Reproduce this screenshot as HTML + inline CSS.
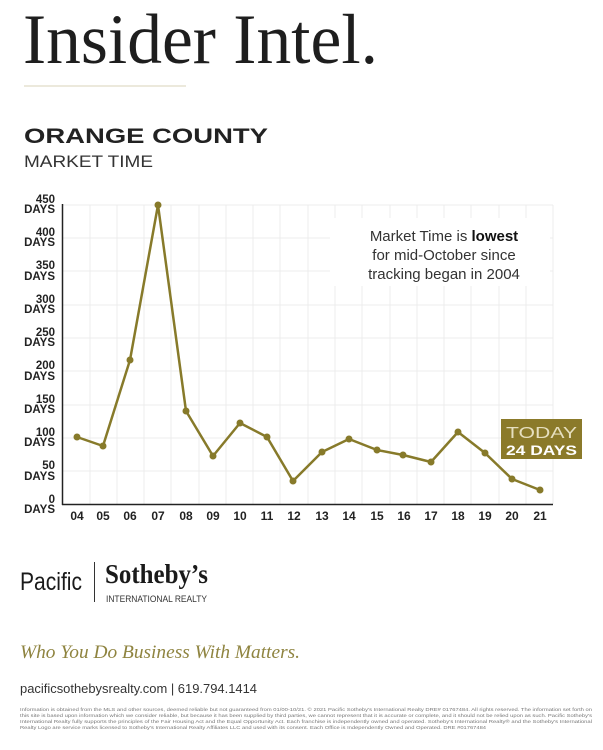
<!DOCTYPE html>
<html><head><meta charset="utf-8"><style>
html,body{margin:0;padding:0;background:#fff;}
svg{display:block;}
</style></head><body>
<svg width="603" height="750" xmlns="http://www.w3.org/2000/svg" font-family="Liberation Sans, sans-serif">
<rect width="603" height="750" fill="#fff"/>
<text x="23" y="63" font-family="Liberation Serif, serif" font-size="71" fill="#1e1e1e" textLength="355" lengthAdjust="spacingAndGlyphs">Insider Intel.</text>
<line x1="24" y1="86" x2="186" y2="86" stroke="#d8d3b8" stroke-width="1"/>
<text x="24" y="143" font-size="21" font-weight="bold" fill="#222" textLength="244" lengthAdjust="spacingAndGlyphs">ORANGE COUNTY</text>
<text x="24" y="167" font-size="17" fill="#333" textLength="129" lengthAdjust="spacingAndGlyphs">MARKET TIME</text>

<g stroke="#ececec" stroke-width="1">
<line x1="62" y1="205" x2="553" y2="205"/><line x1="62" y1="238" x2="553" y2="238"/><line x1="62" y1="271" x2="553" y2="271"/><line x1="62" y1="305" x2="553" y2="305"/><line x1="62" y1="338" x2="553" y2="338"/><line x1="62" y1="371" x2="553" y2="371"/><line x1="62" y1="405" x2="553" y2="405"/><line x1="62" y1="438" x2="553" y2="438"/><line x1="62" y1="471" x2="553" y2="471"/>
<line x1="90" y1="205" x2="90" y2="504"/><line x1="117" y1="205" x2="117" y2="504"/><line x1="144" y1="205" x2="144" y2="504"/><line x1="171" y1="205" x2="171" y2="504"/><line x1="199" y1="205" x2="199" y2="504"/><line x1="226" y1="205" x2="226" y2="504"/><line x1="253" y1="205" x2="253" y2="504"/><line x1="280" y1="205" x2="280" y2="504"/><line x1="308" y1="205" x2="308" y2="504"/><line x1="335" y1="205" x2="335" y2="504"/><line x1="362" y1="205" x2="362" y2="504"/><line x1="390" y1="205" x2="390" y2="504"/><line x1="417" y1="205" x2="417" y2="504"/><line x1="444" y1="205" x2="444" y2="504"/><line x1="471" y1="205" x2="471" y2="504"/><line x1="499" y1="205" x2="499" y2="504"/><line x1="526" y1="205" x2="526" y2="504"/><line x1="553" y1="205" x2="553" y2="504"/>
</g>
<rect x="330" y="218" width="220" height="68" fill="#fff"/>
<line x1="62.5" y1="204" x2="62.5" y2="505" stroke="#222" stroke-width="1.5"/>
<line x1="62" y1="504.5" x2="553" y2="504.5" stroke="#222" stroke-width="1.5"/>

<g font-size="11.5" font-weight="bold" fill="#222" text-anchor="end">
<text x="55" y="203">450</text><text x="55" y="213">DAYS</text>
<text x="55" y="236">400</text><text x="55" y="246">DAYS</text>
<text x="55" y="269">350</text><text x="55" y="280">DAYS</text>
<text x="55" y="303">300</text><text x="55" y="313">DAYS</text>
<text x="55" y="336">250</text><text x="55" y="346">DAYS</text>
<text x="55" y="369">200</text><text x="55" y="380">DAYS</text>
<text x="55" y="403">150</text><text x="55" y="413">DAYS</text>
<text x="55" y="436">100</text><text x="55" y="446">DAYS</text>
<text x="55" y="469">50</text><text x="55" y="480">DAYS</text>
<text x="55" y="503">0</text><text x="55" y="513">DAYS</text>
</g>
<g font-size="12" font-weight="bold" fill="#222" text-anchor="middle">
<text x="77" y="520">04</text><text x="103" y="520">05</text><text x="130" y="520">06</text><text x="158" y="520">07</text><text x="186" y="520">08</text><text x="213" y="520">09</text><text x="240" y="520">10</text><text x="267" y="520">11</text><text x="294" y="520">12</text><text x="322" y="520">13</text><text x="349" y="520">14</text><text x="377" y="520">15</text><text x="404" y="520">16</text><text x="431" y="520">17</text><text x="458" y="520">18</text><text x="485" y="520">19</text><text x="512" y="520">20</text><text x="540" y="520">21</text>
</g>

<polyline fill="none" stroke="#877a2a" stroke-width="2.5" stroke-linejoin="round" points="77,437 103,446 130,360 158,205 186,411 213,456 240,423 267,437 293,481 322,452 349,439 377,450 403,455 431,462 458,432 485,453 512,479 540,490"/>
<g fill="#877a2a">
<circle cx="77" cy="437" r="3.5"/><circle cx="103" cy="446" r="3.5"/><circle cx="130" cy="360" r="3.5"/><circle cx="158" cy="205" r="3.5"/><circle cx="186" cy="411" r="3.5"/><circle cx="213" cy="456" r="3.5"/><circle cx="240" cy="423" r="3.5"/><circle cx="267" cy="437" r="3.5"/><circle cx="293" cy="481" r="3.5"/><circle cx="322" cy="452" r="3.5"/><circle cx="349" cy="439" r="3.5"/><circle cx="377" cy="450" r="3.5"/><circle cx="403" cy="455" r="3.5"/><circle cx="431" cy="462" r="3.5"/><circle cx="458" cy="432" r="3.5"/><circle cx="485" cy="453" r="3.5"/><circle cx="512" cy="479" r="3.5"/><circle cx="540" cy="490" r="3.5"/>
</g>

<g font-size="15" fill="#333" text-anchor="middle">
<text x="444" y="241">Market Time is <tspan font-weight="bold" fill="#111">lowest</tspan></text>
<text x="444" y="260">for mid-October since</text>
<text x="444" y="279">tracking began in 2004</text>
</g>

<rect x="501" y="419" width="81" height="40" fill="#8b7a2a"/>
<text x="541.5" y="438" font-size="16" fill="#e6dfbf" text-anchor="middle" textLength="71" lengthAdjust="spacingAndGlyphs">TODAY</text>
<text x="541.5" y="455" font-size="14" font-weight="bold" fill="#fff" text-anchor="middle" textLength="71" lengthAdjust="spacingAndGlyphs">24 DAYS</text>

<text x="20" y="590" font-size="25" fill="#1a1a1a" textLength="62" lengthAdjust="spacingAndGlyphs">Pacific</text>
<line x1="94.5" y1="562" x2="94.5" y2="602" stroke="#333" stroke-width="1"/>
<text x="105" y="583" font-family="Liberation Serif, serif" font-size="27" font-weight="bold" fill="#1a1a1a" textLength="103" lengthAdjust="spacingAndGlyphs">Sotheby’s</text>
<text x="106" y="602" font-size="9.5" fill="#333" textLength="101" lengthAdjust="spacingAndGlyphs">INTERNATIONAL REALTY</text>

<text x="20" y="658" font-family="Liberation Serif, serif" font-style="italic" font-size="19" fill="#8f8440" textLength="280" lengthAdjust="spacingAndGlyphs">Who You Do Business With Matters.</text>
<text x="20" y="693" font-size="13" fill="#333" textLength="237" lengthAdjust="spacingAndGlyphs">pacificsothebysrealty.com  |  619.794.1414</text>

<g font-size="4.6" fill="#777">
<text x="20" y="711" textLength="572" lengthAdjust="spacingAndGlyphs">Information is obtained from the MLS and other sources, deemed reliable but not guaranteed from 01/00-10/21. © 2021 Pacific Sotheby's International Realty DRE# 01767484. All rights reserved. The information set forth on</text>
<text x="20" y="717" textLength="572" lengthAdjust="spacingAndGlyphs">this site is based upon information which we consider reliable, but because it has been supplied by third parties, we cannot represent that it is accurate or complete, and it should not be relied upon as such. Pacific Sotheby's</text>
<text x="20" y="723" textLength="572" lengthAdjust="spacingAndGlyphs">International Realty fully supports the principles of the Fair Housing Act and the Equal Opportunity Act. Each franchise is independently owned and operated. Sotheby's International Realty® and the Sotheby's International</text>
<text x="20" y="729" textLength="466" lengthAdjust="spacingAndGlyphs">Realty Logo are service marks licensed to Sotheby's International Realty Affiliates LLC and used with its consent. Each Office is Independently Owned and Operated. DRE #01767484</text>
</g>
</svg>
</body></html>
